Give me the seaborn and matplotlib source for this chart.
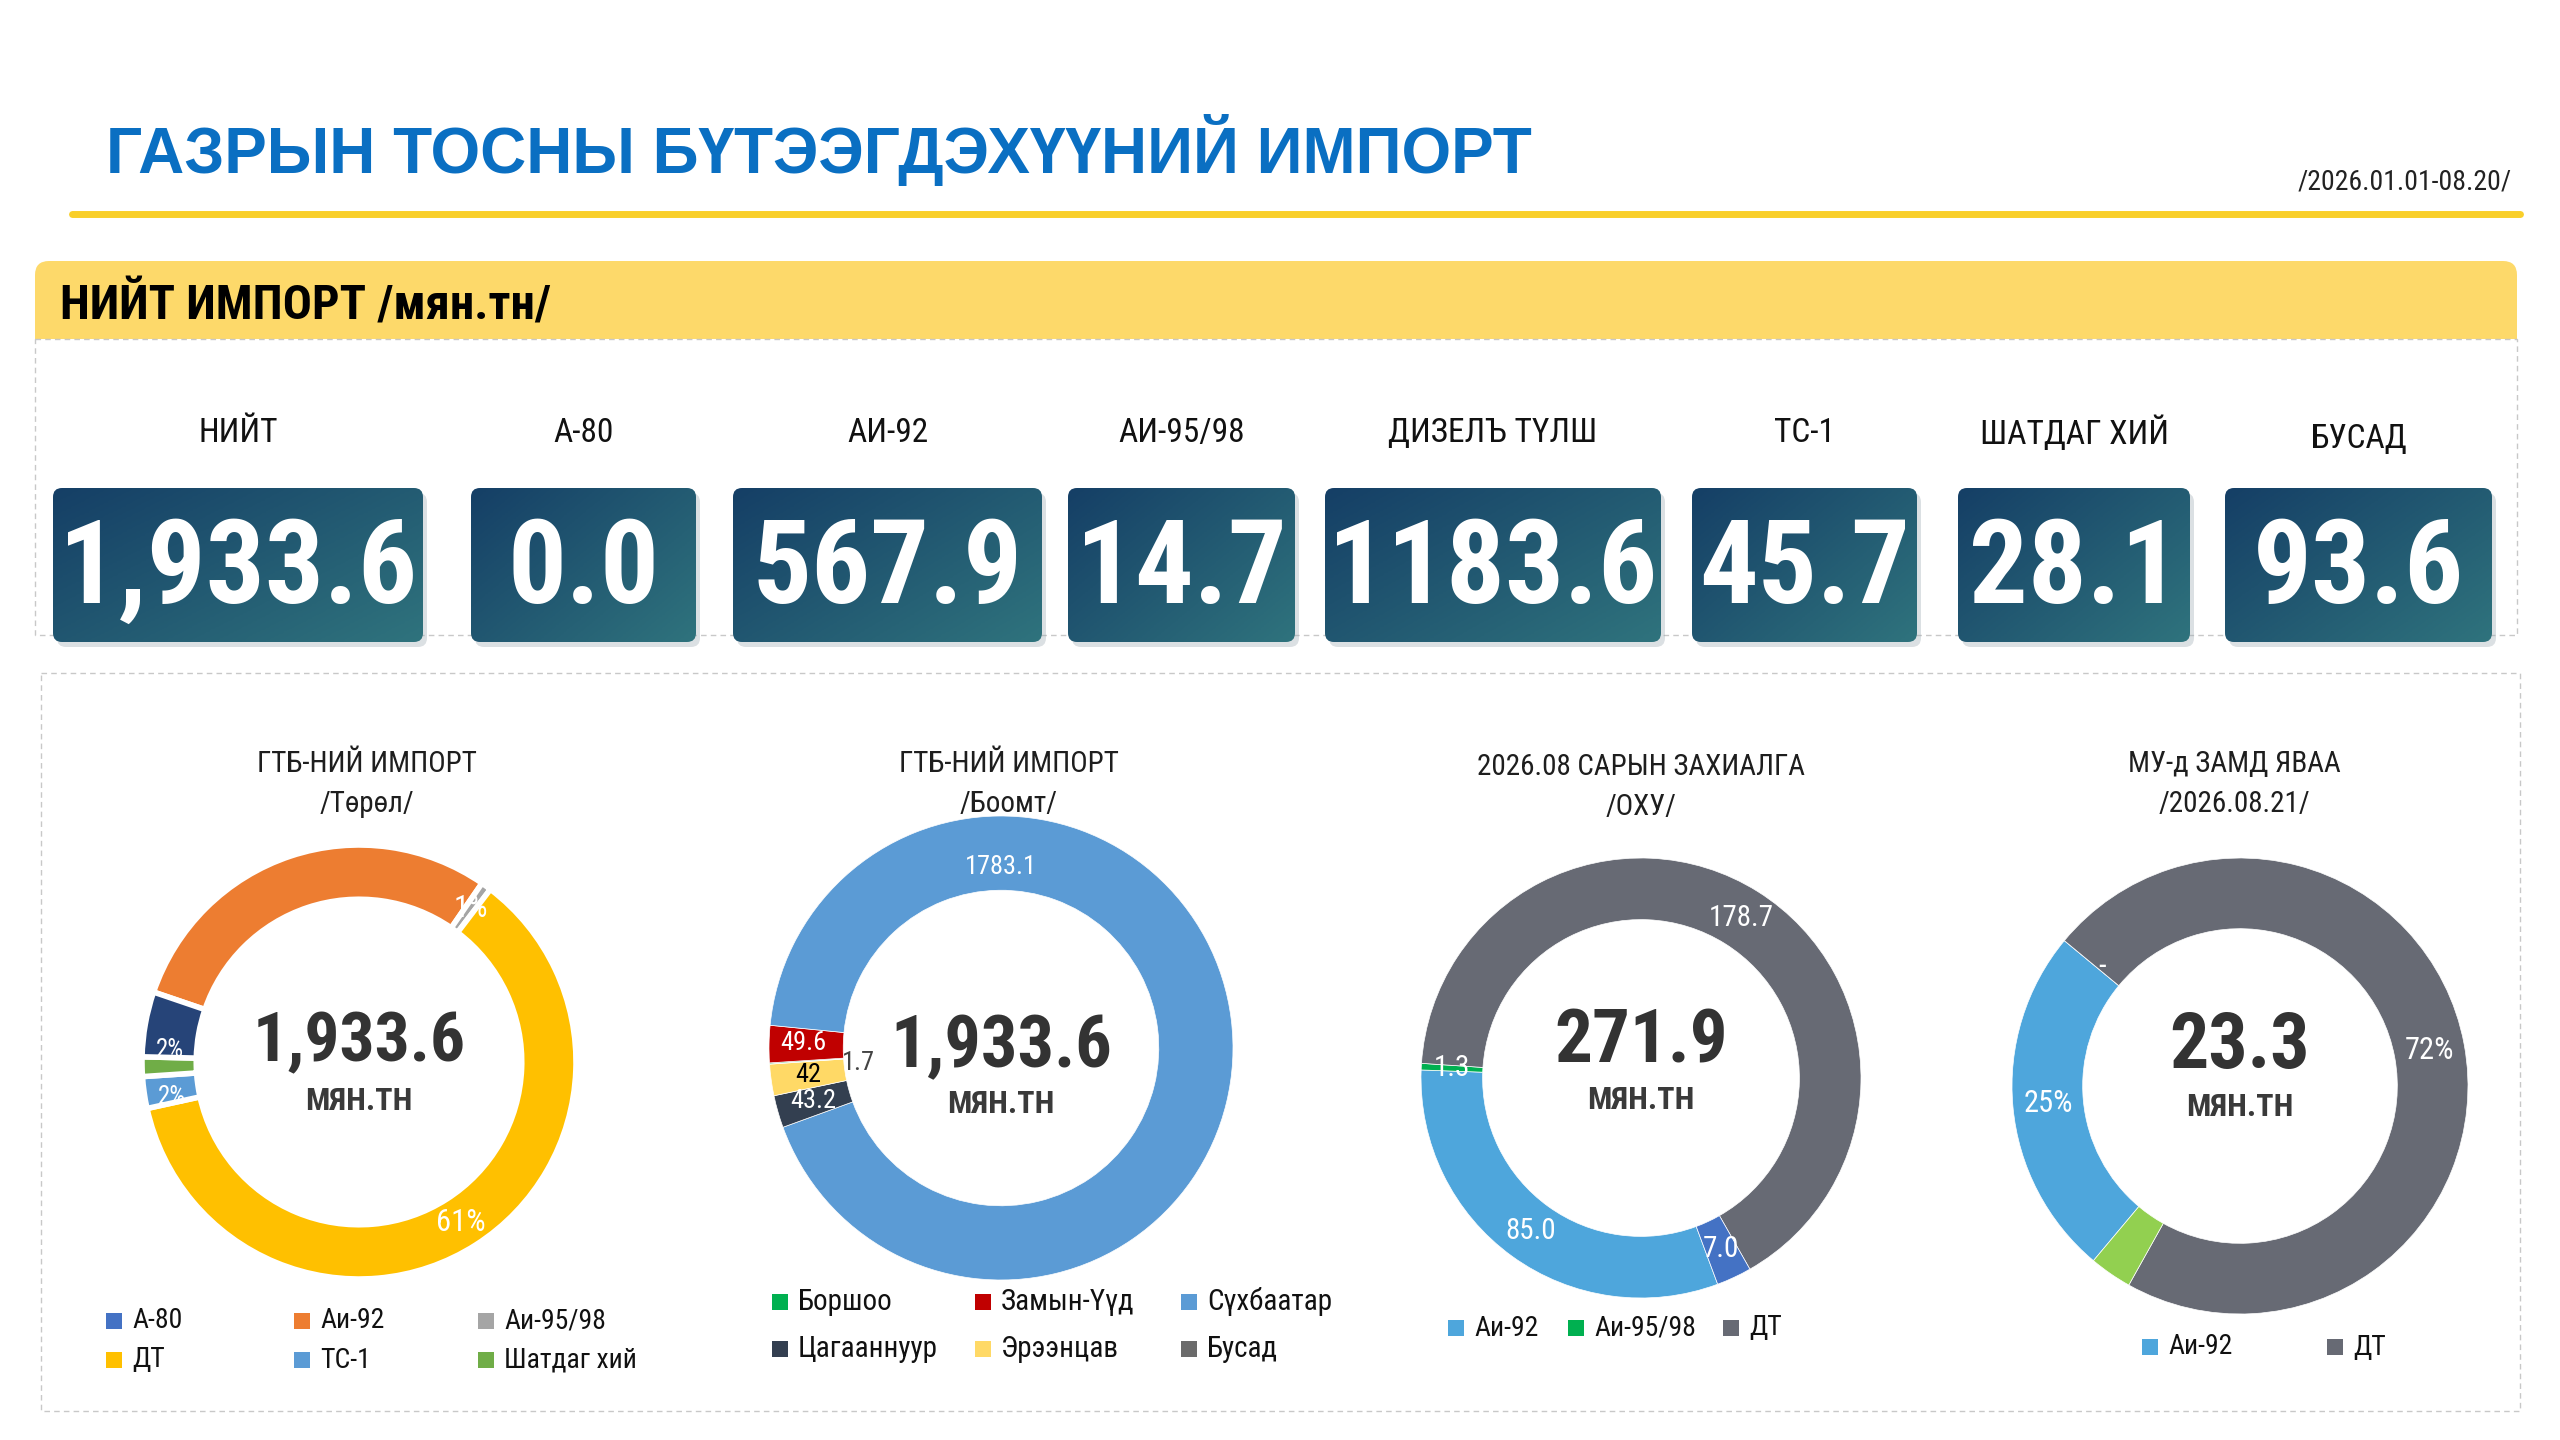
import numpy as np
import matplotlib
matplotlib.use('Agg')
import matplotlib.pyplot as plt
from matplotlib import font_manager
from matplotlib.patches import FancyBboxPatch, Rectangle
from matplotlib.colors import LinearSegmentedColormap
import seaborn as sns

# ---- data ----
title = 'ГАЗРЫН ТОСНЫ БҮТЭЭГДЭХҮҮНИЙ ИМПОРТ'
period = '/2026.01.01-08.20/'
header = 'НИЙТ ИМПОРТ /мян.тн/'

kpi_names = ['НИЙТ', 'А-80', 'АИ-92', 'АИ-95/98', 'ДИЗЕЛЪ ТҮЛШ', 'ТС-1', 'ШАТДАГ ХИЙ', 'БУСАД']
kpi_values = [1933.6, 0.0, 567.9, 14.7, 1183.6, 45.7, 28.1, 93.6]

type_names = ['А-80', 'Аи-92', 'Аи-95/98', 'ДТ', 'ТС-1', 'Шатдаг хий', 'Бусад']
type_values = [0.0, 567.9, 14.7, 1183.6, 45.7, 28.1, 93.6]
type_labels = ['', '', '1%', '61%', '2%', '2%', '']

port_names = ['Боршоо', 'Замын-Үүд', 'Сүхбаатар', 'Цагааннуур', 'Эрээнцав', 'Бусад']
port_values = [1.7, 49.6, 1783.1, 43.2, 42.0, 0.0]
port_labels = ['1.7', '49.6', '1783.1', '43.2', '42', '']

order_names = ['Аи-92', 'Аи-95/98', 'ДТ', 'Бусад']
order_values = [85.0, 1.3, 178.7, 7.0]
order_labels = ['85.0', '1.3', '178.7', '7.0']

transit_names = ['Аи-92', 'Аи-95/98', 'ДТ', 'Бусад']
transit_values = [5.8, 0.0, 16.8, 0.7]
transit_labels = ['25%', '-', '72%', '']

donut_titles = ['ГТБ-НИЙ ИМПОРТ\n/Төрөл/', 'ГТБ-НИЙ ИМПОРТ\n/Боомт/',
                '2026.08 САРЫН ЗАХИАЛГА\n/ОХУ/', 'МУ-д ЗАМД ЯВАА\n/2026.08.21/']
donut_totals = ['1,933.6', '1,933.6', '271.9', '23.3']

# ---- style ----
sns.set_theme(style='white')
names = {f.name for f in font_manager.fontManager.ttflist}
COND = next((n for n in ['Roboto Condensed', 'Liberation Sans Narrow', 'DejaVu Sans'] if n in names), 'DejaVu Sans')
plt.rcParams['font.family'] = ['Liberation Sans', 'DejaVu Sans']

type_colors = ['#4472C4', '#ED7D31', '#A5A5A5', '#FFC000', '#5B9BD5', '#70AD47', '#264478']
port_colors = ['#00B050', '#C00000', '#5B9BD5', '#333F50', '#FFD966', '#6B6B6B']
order_colors = ['#4EA6DC', '#00B050', '#676A74', '#4472C4']
transit_colors = ['#4EA6DC', '#00B050', '#676A74', '#92D050']
box_cmap = LinearSegmentedColormap.from_list('box', ['#153F66', '#2F737D'])

W, H = 2560, 1440
fig = plt.figure(figsize=(25.6, 14.4), dpi=100)
fig.patch.set_facecolor('white')
bg = fig.add_axes([0, 0, 1, 1])
bg.axis('off')

# header
bg.text(106, 150, title, fontsize=46, fontweight='bold', color='#0A6FC2', ha='left', va='center')
bg.text(2512, 182, period, fontsize=20, color='#222222', ha='right', va='center',
        family=COND, fontstretch='condensed')
bg.plot([72, 2520], [214, 214], color='#F9CF2A', lw=5, solid_capstyle='round')

bg.add_patch(FancyBboxPatch((35, 261), 2482, 78, boxstyle='round,pad=0,rounding_size=14',
                            fc='#FDD96A', ec='none'))
bg.add_patch(Rectangle((35, 300), 2482, 39, fc='#FDD96A', ec='none'))
bg.text(60, 306, header, fontsize=35, fontweight='bold', color='black', ha='left', va='center',
        family=COND, fontstretch='condensed')
bg.add_patch(Rectangle((35, 339), 2482, 296, fill=False, ec='#C8C8C8', lw=1, ls=(0, (4, 3))))
bg.add_patch(Rectangle((41, 673), 2479, 738, fill=False, ec='#C8C8C8', lw=1, ls=(0, (4, 3))))

# KPI tiles
box_x = [(53, 423), (471, 696), (733, 1042), (1068, 1295), (1325, 1661), (1692, 1917), (1958, 2190), (2225, 2492)]
gx, gy = np.meshgrid(np.linspace(0, 1, 80), np.linspace(0, 1, 80))
grad = 0.55 * gx + 0.45 * gy
for i, (name, val) in enumerate(zip(kpi_names, kpi_values)):
    x0, x1 = box_x[i]
    y0, y1 = 488, 642
    xc = (x0 + x1) / 2
    bg.text(xc, 433 + (6 if i == 7 else 0), name, fontsize=24, color='#111111', ha='center', va='center',
            family=COND, fontstretch='condensed')
    bg.add_patch(FancyBboxPatch((x0 + 4, y0 + 5), x1 - x0, y1 - y0, boxstyle='round,pad=0,rounding_size=9',
                                fc='#9AA7B0', ec='none', alpha=0.35, zorder=1))
    patch = FancyBboxPatch((x0, y0), x1 - x0, y1 - y0, boxstyle='round,pad=0,rounding_size=9',
                           fc='none', ec='none', zorder=2)
    bg.add_patch(patch)
    im = bg.imshow(grad, cmap=box_cmap, extent=(x0, x1, y1, y0), origin='upper', aspect='auto', zorder=2)
    im.set_clip_path(patch)
    txt = f'{val:,.1f}' if i == 0 else f'{val:.1f}'
    bg.text(xc, (y0 + y1) / 2 + 6, txt, fontsize=84, fontweight='bold', color='white', ha='center',
            va='center', family=COND, fontstretch='condensed', zorder=3)

bg.set_xlim(0, W)
bg.set_ylim(H, 0)


def donut(cx, cy, R, values, colors, labels, start, inner, edge_lw, total, dy_num, dy_unit,
          num_size, lab_size=21, overrides=None, label_colors=None, label_sizes=None):
    s = 1.3 * R
    ax = fig.add_axes([(cx - s) / W, 1 - (cy + s) / H, 2 * s / W, 2 * s / H])
    wedges, _ = ax.pie(values, colors=colors, startangle=start, counterclock=False, radius=1,
                       wedgeprops=dict(width=1 - inner, edgecolor='white', linewidth=edge_lw))
    ax.set_xlim(-1.3, 1.3)
    ax.set_ylim(-1.3, 1.3)
    ax.set_aspect('equal')
    ax.axis('off')
    r_mid = (1 + inner) / 2
    overrides = overrides or {}
    label_colors = label_colors or {}
    label_sizes = label_sizes or {}
    for i, (w, lab) in enumerate(zip(wedges, labels)):
        if not lab:
            continue
        ang = np.deg2rad((w.theta1 + w.theta2) / 2)
        r = r_mid
        if i in overrides:
            theta_cw, r = overrides[i]
            ang = np.deg2rad(90 - theta_cw)
        ax.text(r * np.cos(ang), r * np.sin(ang), lab, color=label_colors.get(i, 'white'),
                fontsize=label_sizes.get(i, lab_size), ha='center', va='center',
                family=COND, fontstretch='condensed')
    ax.text(0, dy_num, total, fontsize=num_size, fontweight='bold', color='#333333', ha='center',
            va='center', family=COND, fontstretch='condensed')
    ax.text(0, dy_unit, 'МЯН.ТН', fontsize=23, fontweight='bold', color='#3A3A3A', ha='center',
            va='center', family=COND, fontstretch='condensed')
    return ax


def legend(names_, colors_, xs, ys, size=20):
    for i, (n, c) in enumerate(zip(names_, colors_)):
        x, y = xs[i], ys[i]
        bg.add_patch(Rectangle((x, y - 8), 16, 16, fc=c, ec='none'))
        bg.text(x + 26, y, n, fontsize=size, color='#111111', ha='left', va='center',
                family=COND, fontstretch='condensed')


title_pos = [(367, 784), (1009, 784), (1641, 787), (2234, 784)]
for (tx, ty), t in zip(title_pos, donut_titles):
    bg.text(tx, ty, t, fontsize=21, color='#1E1E1E', ha='center', va='center', linespacing=1.55,
            family=COND, fontstretch='condensed')

donut(359, 1062, 217, type_values, type_colors, type_labels, 161.2, 0.75, 4, donut_totals[0],
      0.09, -0.18, 50, lab_size=22,
      overrides={4: (259.5, 0.875), 5: (273.5, 0.875)}, label_sizes={4: 18, 5: 18})
donut(1001, 1048, 232, port_values, port_colors, port_labels, 184.0, 0.68, 0.5, donut_totals[1],
      0.0, -0.24, 52, lab_size=19,
      overrides={0: (264, 0.62), 1: (271.5, 0.85), 2: (0, 0.78)},
      label_colors={0: '#444444', 4: 'black'})
donut(1641, 1078, 220, order_values, order_colors, order_labels, -69.6, 0.72, 0.5, donut_totals[2],
      0.16, -0.10, 54)
donut(2240, 1086, 228, transit_values, transit_colors, transit_labels, -130.0, 0.69, 0.5,
      donut_totals[3], 0.17, -0.09, 56, lab_size=22, overrides={1: (311, 0.8)})

legend(type_names[:6], type_colors[:6], [106, 294, 478, 106, 294, 478], [1321] * 3 + [1360] * 3)
legend(port_names, port_colors, [772, 975, 1181, 772, 975, 1181], [1302] * 3 + [1349] * 3, size=21)
legend(order_names[:3], order_colors[:3], [1448, 1568, 1723], [1328] * 3)
legend([transit_names[0], transit_names[2]], [transit_colors[0], transit_colors[2]], [2142, 2327], [1347] * 2)

fig.savefig('out.png', dpi=100, facecolor='white')
